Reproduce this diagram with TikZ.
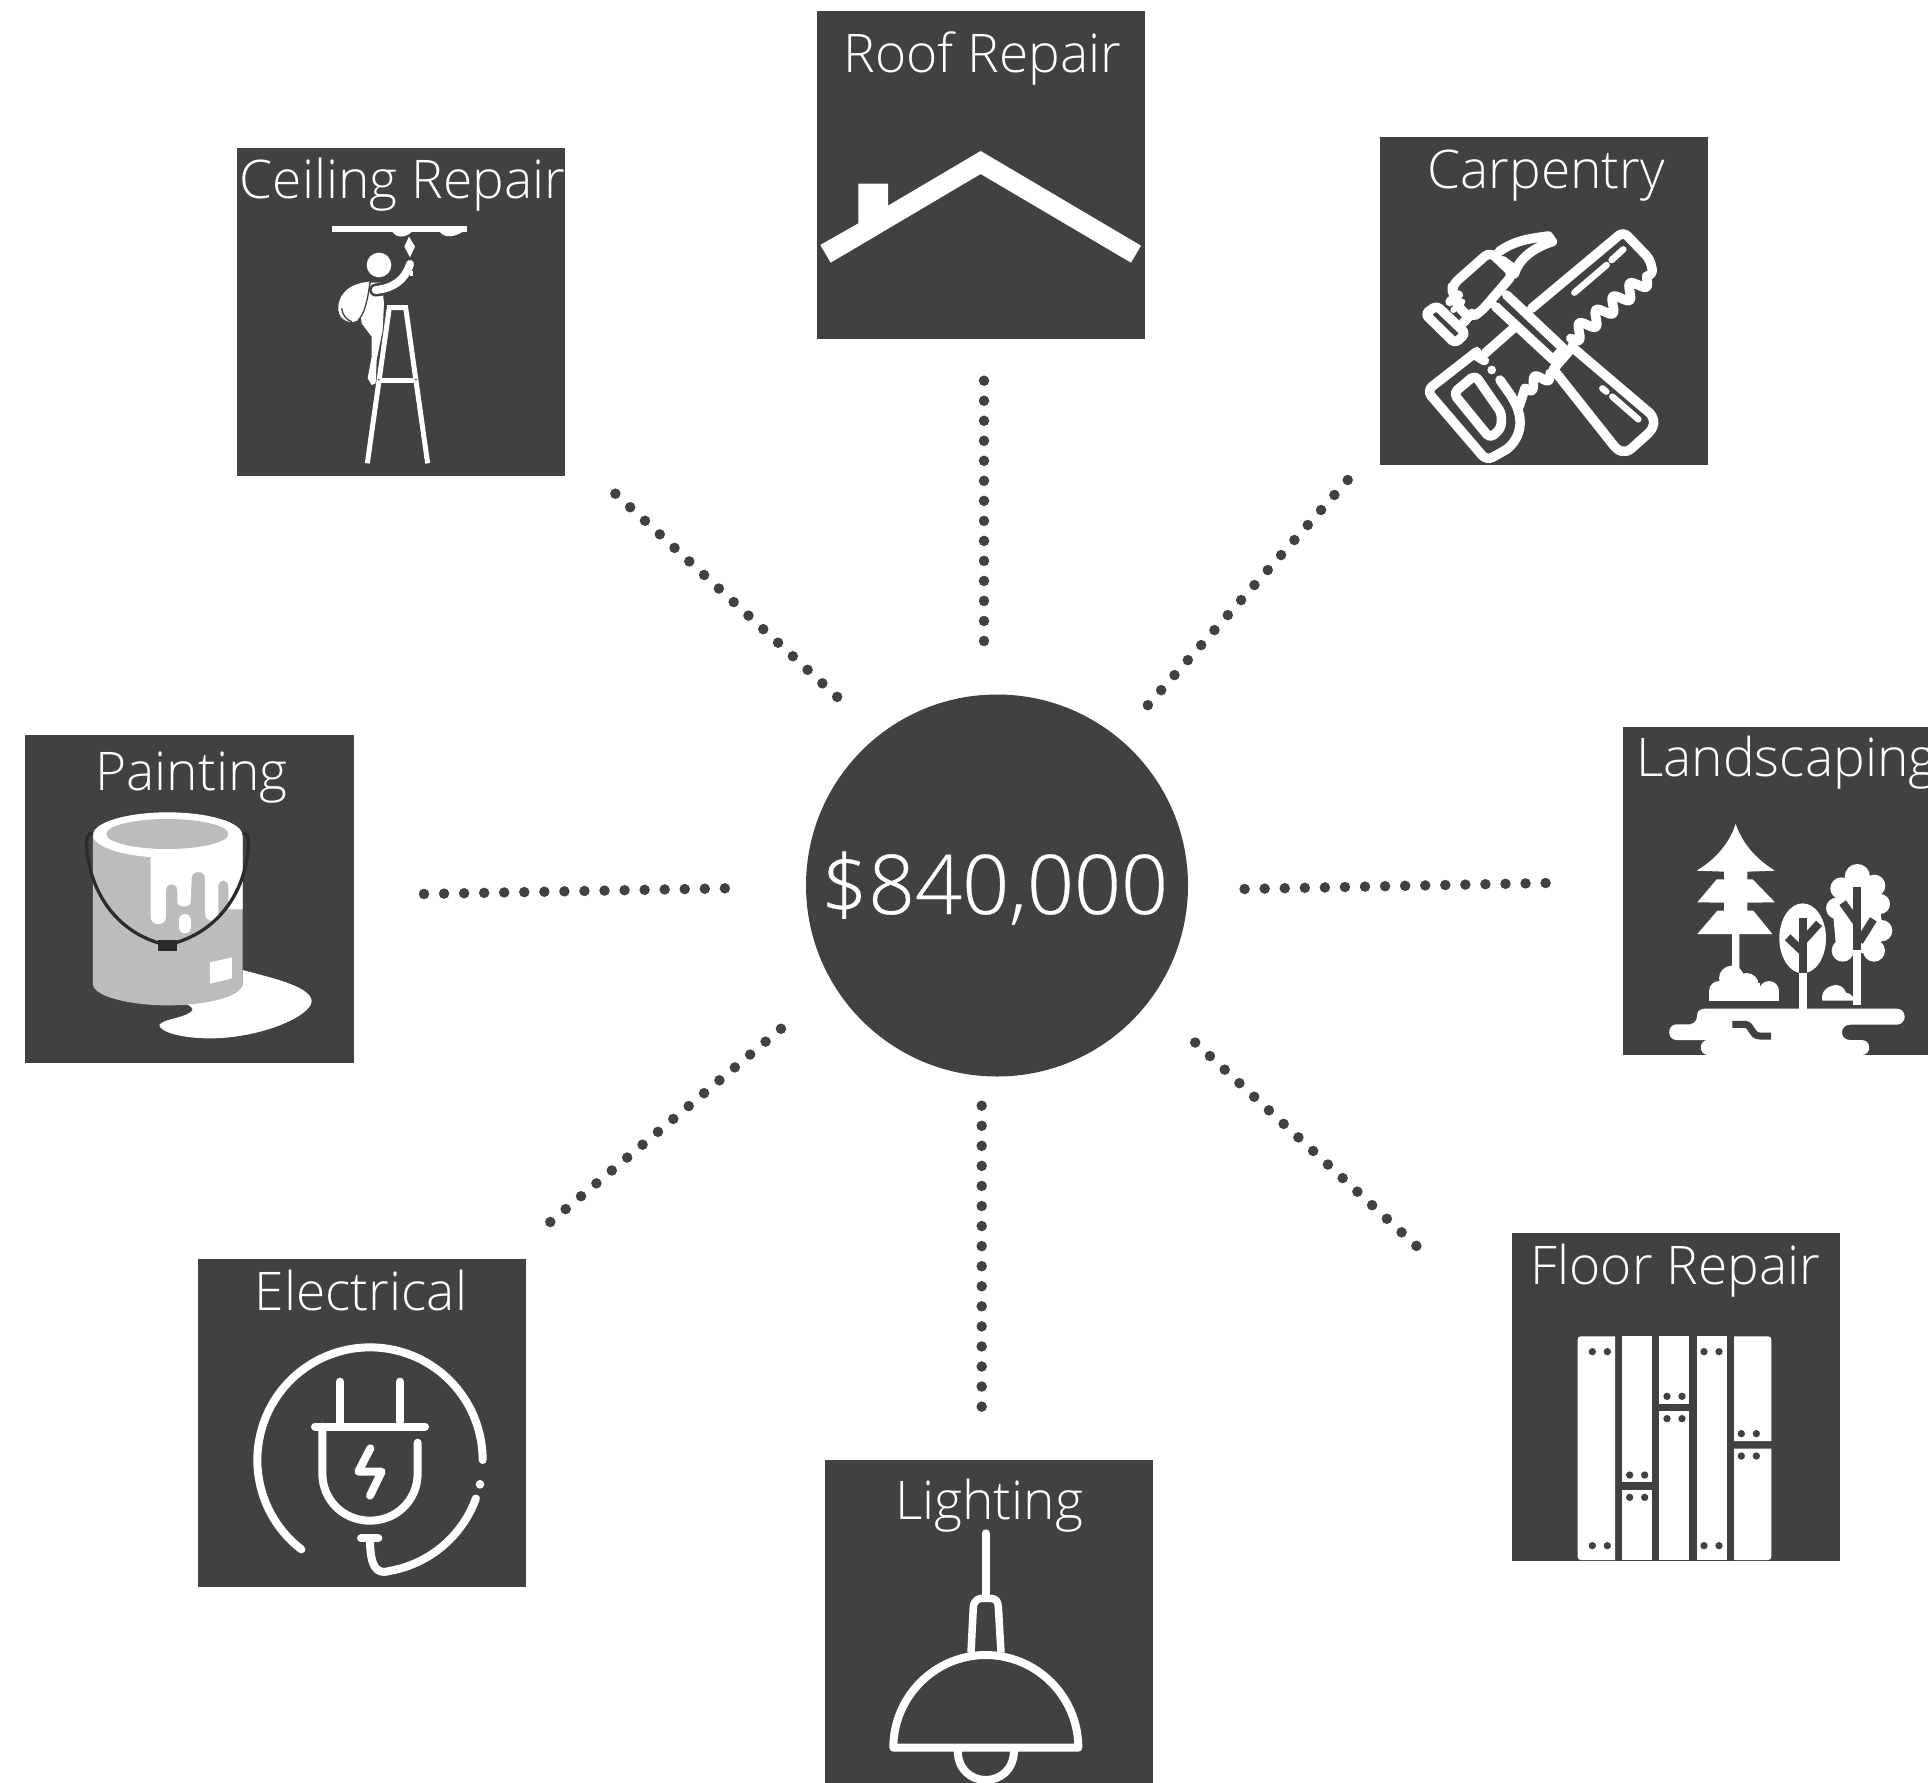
\documentclass[tikz,border=0pt]{standalone}
\usepackage{fontspec}
\setmainfont{Open Sans}[UprightFont=* Light]
\newfontface\hubface{Open Sans Light}[FakeBold=0.35]
\definecolor{slate}{HTML}{414042}
\definecolor{pail}{HTML}{BCBCBC}
\definecolor{grip}{HTML}{2B2B2C}
\tikzset{
  tile/.style={fill=slate,draw=none},
  tilelabel/.style={text=white,inner sep=0pt,anchor=base,font=\fontsize{53.3}{60}\selectfont},
  spoke/.style={draw=slate,line width=10.5pt,line cap=round,dash pattern=on 0pt off #1pt},
  icon/.style={shift={#1},x=0.33333pt,y=-0.33333pt},
  wline/.style={draw=white,line width=8pt,line cap=round,line join=round},
  wfill/.style={fill=white,draw=none},
  dfill/.style={fill=slate,draw=none},
  dline/.style={draw=slate,line width=8pt}
}
\begin{document}
\begin{tikzpicture}[x=1pt,y=-1pt]
\useasboundingbox (0,0) rectangle (1928,1783);
% tiles
\fill[tile] (817,11) rectangle (1145,339);
\fill[tile] (237,148) rectangle (565,476);
\fill[tile] (1380,137) rectangle (1708,465);
\fill[tile] (25,735) rectangle (354,1063);
\fill[tile] (1623,727) rectangle (1928,1055);
\fill[tile] (198,1259) rectangle (526,1587);
\fill[tile] (1512,1233) rectangle (1840,1561);
\fill[tile] (825,1460) rectangle (1153,1783);
% centre
\node[circle,fill=slate,minimum size=382pt,inner sep=0pt] (hub) at (997,885.5) {};
\node[text=white,inner sep=0pt,anchor=base,font=\fontsize{82.4}{90}\hubface] (sum) at (994.5,914) {\$840,000};
% labels
\node[tilelabel] (lroof) at (982.5,72) {Roof Repair};
\node[tilelabel] (lceil) at (402.5,198) {Ceiling Repair};
\node[tilelabel] (lcarp) at (1546,188) {Carpentry};
\node[tilelabel] (lpaint) at (191.5,790) {Painting};
\node[tilelabel,anchor=base west] (lland) at (1636,776) {Landscaping};
\node[tilelabel] (lelec) at (361,1310) {Electrical};
\node[tilelabel] (lfloor) at (1675.5,1284) {Floor Repair};
\node[tilelabel] (llight) at (989,1519) {Lighting};
% spokes
\coordinate (ra) at (984,380.7); \coordinate (rb) at (984,641.2);
\coordinate (ca) at (615.4,493.7); \coordinate (cb) at (837.3,697);
\coordinate (da) at (1347.7,480); \coordinate (db) at (1147.7,705.3);
\coordinate (pa) at (424,894); \coordinate (pb) at (725,888.3);
\coordinate (ea) at (550.3,1222); \coordinate (eb) at (781,1028.7);
\coordinate (la) at (1244.6,889); \coordinate (lb) at (1545.8,883);
\coordinate (ga) at (981.7,1105.7); \coordinate (gb) at (981.7,1406.8);
\coordinate (fa) at (1195.2,1042.5); \coordinate (fb) at (1416.5,1246);
\draw[spoke=20.02] (ra) -- (rb);
\draw[spoke=20.05] (ca) -- (cb);
\draw[spoke=20.07] (da) -- (db);
\draw[spoke=20.06] (pa) -- (pb);
\draw[spoke=20.06] (ea) -- (eb);
\draw[spoke=20.07] (la) -- (lb);
\draw[spoke=20.06] (ga) -- (gb);
\draw[spoke=20.03] (fa) -- (fb);
% roof icon
\begin{scope}[icon={(810,0)}]
\fill[wfill] (31,735) -- (145,670) -- (145,551) -- (234,551) -- (234,617) -- (512,453) -- (993,737) -- (963,788) -- (512,522) -- (62,788) -- cycle;
\end{scope}
% ceiling icon
\begin{scope}[icon={(230,140)}]
\fill[wfill] (307,258) rectangle (710,276);
\fill[wfill] (487,276) .. controls (497,292) and (525,296) .. (545,276) -- cycle;
\fill[wfill] (630,276) .. controls (645,296) and (675,290) .. (697,276) -- cycle;
\fill[wfill] (537,290) -- (555,320) -- (540,352) -- (523,320) -- cycle;
\fill[wfill] (447,375) circle [radius=37];
\fill[wfill] (420,425) .. controls (350,430) and (322,470) .. (325,510) .. controls (328,540) and (360,555) .. (385,540) .. controls (405,520) and (415,470) .. (420,425) -- cycle;
\fill[wfill] (422,428) -- (455,428) -- (462,490) -- (458,570) -- (440,660) -- (437,730) -- (425,735) -- (413,715) -- (425,650) -- (425,590) -- (395,550) -- (393,530) -- (412,480) -- cycle;
\draw[slate,line width=1.3pt] (420,425) .. controls (415,470) and (405,520) .. (385,540);
\draw[slate,line width=1.3pt] (335,505) .. controls (337,525) and (350,540) .. (365,545);
\draw[slate,line width=13pt,line cap=round] (437,450) .. controls (490,445) and (525,420) .. (540,372);
\draw[white,line width=8pt,line cap=round] (437,450) .. controls (490,445) and (525,420) .. (540,372);
\fill[wfill] (541,392) rectangle (549,408);
\draw[white,line width=5pt] (412,970) -- (478,503) -- (527,503) -- (593,970);
\draw[white,line width=5pt] (445,720) -- (558,720);
\fill[slate] (447,719) circle [radius=3];
\fill[slate] (558,719) circle [radius=3];
\end{scope}
% carpentry icon
\begin{scope}[icon={(1375,130)}]
\tikzset{wline/.append style={line width=9.5pt}}
% saw blade
\draw[wline,rounded corners=6pt] (470,535) -- (745,305) -- (825,388) -- (835,435) -- (815,438);
\draw[wline] plot[domain=0:1,samples=90] ({815-228*\x+0.619*20*sin(360*4.5*\x)},{445+180*\x+0.786*20*sin(360*4.5*\x)});
\draw[wline,line width=6.5pt] (598,488) -- (695,405);
\draw[wline,line width=6.5pt] (710,390) -- (745,358);
% saw handle
\draw[wline] (330,670) -- (415,595);
\draw[wline,rounded corners=7pt] (305,665) -- (155,782) -- (335,992) -- (395,958);
\draw[wline] (395,958) .. controls (430,930) and (442,890) .. (432,850) .. controls (422,810) and (395,780) .. (375,750);
\draw[wline,rounded corners=5pt] (300,735) -- (235,790) -- (345,925) -- (378,895) -- (380,850) -- cycle;
\draw[wline] (295,672) -- (328,692);
\fill[wfill] (350,720) circle [radius=13];
\draw[wline] plot[domain=0:1,samples=40] ({525-75*\x+0.5*16*sin(360*1.5*\x)},{730+45*\x+0.86*16*sin(360*1.5*\x)});
\draw[wline] (450,775) -- (432,830);
% hammer shaft and handle
\fill[slate] (395,495) -- (565,655) -- (535,690) -- (362,530) -- cycle;
\draw[wline] (395,495) -- (565,655) -- (535,690) -- (362,530);
\fill[slate] (590,650) -- (830,855) -- (745,965) -- (535,718) -- cycle;
\draw[wline] (590,650) -- (825,850) .. controls (845,875) and (835,895) .. (820,910) -- (770,955) .. controls (750,972) and (730,965) .. (715,945) -- (535,718) -- (585,660);
\draw[wline,line width=6.5pt] (682,775) -- (694,785);
\draw[wline,line width=6.5pt] (712,800) -- (790,868);
% hammer head
\fill[slate] (345,368) -- (412,432) -- (315,555) -- (270,540) -- (232,478) -- cycle;
\draw[wline,rounded corners=7pt] (345,365) -- (415,432) -- (318,545) -- (290,562) -- (262,548) -- (232,490) -- (232,465) -- cycle;
\draw[wline,rounded corners=4pt] (185,527) -- (150,552) -- (240,640) -- (272,610) -- cycle;
\draw[wline] (225,515) -- (250,495);
\draw[wline] (265,578) -- (290,550);
\draw[wline,line width=6pt] (235,540) -- (262,515);
\draw[wline] (372,365) .. controls (420,330) and (470,325) .. (520,318) -- (532,335) .. controls (470,355) and (430,390) .. (418,432);
\draw[wline,line width=6.5pt] (385,388) -- (412,408);
\end{scope}
% painting icon
\begin{scope}[icon={(20,730)}]
\fill[wfill] (668,720) .. controls (760,745) and (875,770) .. (875,815) .. controls (870,860) and (720,925) .. (570,925) .. controls (480,925) and (420,905) .. (418,885) .. controls (430,865) and (500,865) .. (518,840) .. controls (515,825) and (500,825) .. (480,815) -- (668,765) -- cycle;
\fill[pail] (219,315) -- (219,765) .. controls (225,800) and (330,826) .. (443,826) .. controls (560,826) and (660,800) .. (668,765) -- (668,315) -- cycle;
\fill[wfill] (443,315) ellipse [x radius=224,y radius=68];
\fill[wfill] (392,370) -- (392,560) .. controls (392,590) and (438,590) .. (438,560) -- (438,482) .. controls (438,456) and (472,456) .. (472,482) -- (472,515) .. controls (472,535) and (512,535) .. (512,515) -- (515,445) .. controls (515,420) and (555,420) .. (555,445) -- (555,548) .. controls (555,580) and (595,580) .. (595,548) -- (595,470) .. controls (595,445) and (625,445) .. (625,470) -- (625,538) -- (668,538) -- (668,315) -- cycle;
\fill[pail] (442,312) ellipse [x radius=183,y radius=45];
\draw[white,line width=12pt,line cap=round] (495,570) -- (495,592);
\draw[grip,line width=3.3pt] (219,310) .. controls (200,310) and (200,325) .. (200,345) .. controls (205,470) and (280,610) .. (440,645) .. controls (605,610) and (680,470) .. (685,345) .. controls (685,325) and (685,310) .. (668,310);
\fill[grip] (413,630) rectangle (472,662);
\fill[wfill] (570,697) -- (636,682) -- (636,745) -- (570,761) -- cycle;
\end{scope}
% landscaping icon
\begin{scope}[icon={(1620,720)}]
\fill[wfill] (347,312) .. controls (370,380) and (420,425) .. (465,452) -- (382,455) -- (382,478) -- (398,478) -- (465,547) -- (382,548) -- (382,572) -- (400,572) -- (457,642) -- (358,642) -- (358,760) -- (336,760) -- (336,642) -- (232,642) -- (292,572) -- (312,572) -- (312,548) -- (232,547) -- (290,478) -- (312,478) -- (312,455) -- (230,452) .. controls (275,425) and (325,380) .. (347,312) -- cycle;
\foreach \bx/\by/\br in {335/775/38,380/795/36,297/813/30,447/813/30}
  \fill[wfill] (\bx,\by) circle [radius=\br];
\fill[wfill] (267,813) -- (477,813) -- (477,842) -- (267,842) -- cycle;
\fill[wfill] (300,790) -- (420,790) -- (420,820) -- (300,820) -- cycle;
\fill[wfill] (607,842) .. controls (600,810) and (630,795) .. (650,795) .. controls (670,797) and (675,812) .. (678,818) .. controls (695,820) and (702,835) .. (702,842) -- cycle;
\fill[wfill] (255,866) -- (830,866) .. controls (862,866) and (862,914) .. (830,914) -- (690,914) .. controls (658,914) and (658,960) .. (690,960) -- (725,960) .. controls (755,960) and (755,1005) .. (725,1005) -- (265,1005) .. controls (235,1005) and (235,960) .. (265,960) -- (170,960) .. controls (140,960) and (140,913) .. (170,913) -- (210,913) .. controls (228,910) and (232,895) .. (232,880) .. controls (235,870) and (245,866) .. (255,866) -- cycle;
\draw[slate,line width=7pt] (337,913) -- (375,913) .. controls (398,915) and (392,948) .. (420,948) -- (453,948);
% middle tree
\fill[wfill] (548,655) ellipse [x radius=70,y radius=105];
\draw[white,line width=8pt] (548,755) -- (548,870);
\draw[slate,line width=8pt] (548,595) -- (548,760);
\draw[slate,line width=8pt] (548,695) -- (503,652);
\draw[slate,line width=8pt] (552,660) -- (597,610);
% right tree
\foreach \bx/\by/\br in {712/470/38,664/505/33,763/497/33,650/565/32,780/552/30,785/632/32,762/692/33,668/692/33}
  \fill[wfill] (\bx,\by) circle [radius=\br];
\fill[wfill] (650,500) -- (770,490) -- (790,640) -- (775,700) -- (650,700) -- (640,590) -- cycle;
\fill[slate] (698,700) .. controls (703,728) and (722,728) .. (727,700) -- cycle;
\draw[white,line width=8pt] (712,690) -- (712,855);
\draw[slate,line width=8pt] (712,500) -- (712,690);
\draw[slate,line width=8pt] (712,610) -- (668,548);
\draw[slate,line width=8pt] (718,665) -- (760,598);
\end{scope}
% electrical icon
\begin{scope}[icon={(190,1250)}]
\draw[wline] plot[domain=127.5:360,samples=90] ({540+338*cos(\x)},{630+338*sin(\x)});
\draw[wline] plot[domain=20:80,samples=30] ({540+338*cos(\x)},{630+338*sin(\x)}) .. controls (560,975) and (540,950) .. (540,868);
\draw[wline] (513,865) -- (565,865);
\fill[wfill] (870,703) circle [radius=13];
\draw[wline] (375,530) -- (705,530);
\draw[wline] (450,395) -- (450,530);
\draw[wline] (630,395) -- (630,530);
\draw[wline] (397,530) -- (397,670) .. controls (397,750) and (460,812) .. (540,812) .. controls (620,812) and (683,750) .. (683,670) -- (683,578);
\draw[wline] (541,595) -- (505,665) -- (575,665) -- (540,737);
\end{scope}
% floor icon
\begin{scope}[icon={(1505,1225)}]
\fill[wfill] (330,334) [rounded corners=3pt] -- (218,334) -- (218,1005) [sharp corners] -- (330,1005) -- cycle;
\fill[wfill] (352,334) rectangle (441,772);
\fill[wfill] (352,795) rectangle (441,1005);
\fill[wfill] (463,334) rectangle (553,537);
\fill[wfill] (463,559) rectangle (553,1005);
\fill[wfill] (575,334) rectangle (665,1005);
\fill[wfill] (687,334) [rounded corners=3pt] -- (799,334) [sharp corners] -- (799,648) -- (687,648) -- cycle;
\fill[wfill] (687,671) -- (799,671) [rounded corners=3pt] -- (799,1005) [sharp corners] -- (687,1005) -- cycle;
\foreach \px/\py in {262/380,307/380,262/962,307/962,374/750,419/750,374/817,419/817,486/514,531/514,486/581,531/581,597/380,642/380,597/962,642/962,709/626,754/626,709/693,754/693}
  \fill[dfill] (\px,\py) circle [radius=11];
\end{scope}
% lighting icon
\begin{scope}[icon={(815,1450)}]
\draw[wline] (512,250) -- (512,440);
\draw[wline,line width=7.5pt,line cap=butt] (468,608) -- (475,470) .. controls (478,448) and (495,445) .. (500,445) -- (525,445) .. controls (545,445) and (548,455) .. (550,470) -- (558,608);
\draw[wline] (235,893) .. controls (235,740) and (360,615) .. (512,615) .. controls (665,615) and (790,740) .. (790,893) -- cycle;
\draw[wline,line cap=butt] (428,900) .. controls (428,960) and (470,990) .. (512,990) .. controls (555,990) and (597,960) .. (597,900);
\end{scope}
\end{tikzpicture}
\end{document}
